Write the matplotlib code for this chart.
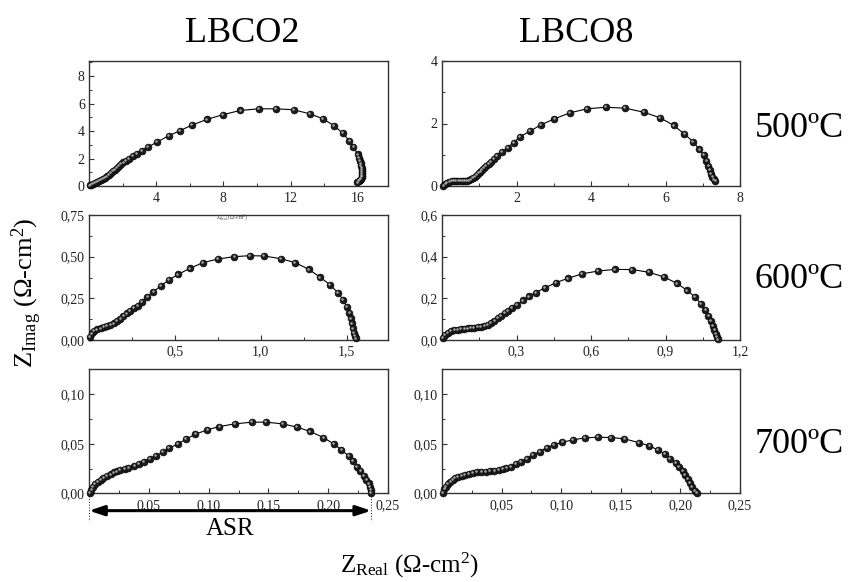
import matplotlib
matplotlib.use('Agg')
import matplotlib.pyplot as plt
from matplotlib.transforms import offset_copy
from matplotlib.ticker import FixedLocator, FixedFormatter, MultipleLocator

plt.rcParams['font.family'] = ['Liberation Serif', 'DejaVu Serif']
plt.rcParams['mathtext.fontset'] = 'custom'
plt.rcParams['mathtext.rm'] = 'Liberation Serif'
plt.rcParams['mathtext.it'] = 'Liberation Serif:italic'

# ---------------- data ----------------
materials = ['LBCO2', 'LBCO8']
temperatures = ['500ºC', '600ºC', '700ºC']

lbco2_500_x = [0.04, 0.12, 0.22, 0.33, 0.45, 0.57, 0.69, 0.81, 0.93, 1.05, 1.17, 1.29, 1.41, 1.53,
               1.65, 1.78, 1.91, 2.05, 2.2, 2.38, 2.6, 2.85, 3.15, 3.5, 4.05, 4.75, 5.4, 6.14, 7.03,
               7.96, 9.01, 10.1, 11.15, 12.18, 13.13, 13.92, 14.59, 15.1, 15.5, 15.74, 16.0, 16.08,
               16.13, 16.17, 16.2, 16.23, 16.25, 16.26, 16.27, 16.26, 16.24, 16.2, 16.14, 16.06, 15.98]
lbco2_500_y = [0.04, 0.1, 0.16, 0.22, 0.29, 0.36, 0.43, 0.51, 0.6, 0.7, 0.82, 0.94, 1.07, 1.2,
               1.33, 1.46, 1.59, 1.72, 1.85, 2.0, 2.17, 2.35, 2.57, 2.82, 3.2, 3.66, 4.02, 4.44, 4.85,
               5.19, 5.5, 5.62, 5.62, 5.55, 5.26, 4.9, 4.39, 3.85, 3.3, 2.84, 2.3, 2.05,
               1.85, 1.65, 1.47, 1.3, 1.15, 1.0, 0.87, 0.75, 0.64, 0.53, 0.43, 0.34, 0.26]

lbco8_500_x = [0.04, 0.09, 0.14, 0.2, 0.26, 0.32, 0.38, 0.44, 0.5, 0.56, 0.62, 0.68, 0.73, 0.78,
               0.83, 0.88, 0.93, 0.98, 1.03, 1.08, 1.13, 1.19, 1.25, 1.32, 1.39, 1.48, 1.61, 1.76,
               1.92, 2.1, 2.37, 2.66, 3.02, 3.43, 3.89, 4.4, 4.92, 5.42, 5.86, 6.22, 6.51, 6.74,
               6.91, 7.03, 7.1, 7.15, 7.19, 7.22, 7.26, 7.3, 7.34]
lbco8_500_y = [0.01, 0.07, 0.11, 0.14, 0.155, 0.16, 0.165, 0.165, 0.165, 0.165, 0.165, 0.17, 0.18,
               0.21, 0.25, 0.3, 0.35, 0.41, 0.46, 0.52, 0.57, 0.63, 0.7, 0.78, 0.86, 0.96, 1.08, 1.22,
               1.39, 1.58, 1.76, 1.96, 2.15, 2.34, 2.47, 2.52, 2.49, 2.36, 2.18, 1.94, 1.66, 1.42,
               1.17, 0.99, 0.81, 0.65, 0.51, 0.39, 0.29, 0.21, 0.16]

lbco2_600_x = [0.004, 0.015, 0.029, 0.048, 0.067, 0.087, 0.106, 0.125, 0.144, 0.163, 0.183, 0.2,
               0.221, 0.24, 0.26, 0.283, 0.308, 0.34, 0.375, 0.417, 0.465, 0.519, 0.587, 0.663, 0.75,
               0.846, 0.937, 1.019, 1.115, 1.2, 1.279, 1.346, 1.404, 1.448, 1.48, 1.5, 1.515, 1.523,
               1.531, 1.538, 1.544, 1.548, 1.554]
lbco2_600_y = [0.02, 0.04, 0.054, 0.064, 0.07, 0.078, 0.084, 0.092, 0.1, 0.114, 0.128, 0.144, 0.16,
               0.176, 0.192, 0.206, 0.228, 0.26, 0.29, 0.324, 0.36, 0.394, 0.43, 0.464, 0.486, 0.5,
               0.506, 0.504, 0.488, 0.464, 0.424, 0.376, 0.33, 0.284, 0.24, 0.2, 0.164, 0.13, 0.1,
               0.07, 0.044, 0.024, 0.01]

lbco8_600_x = [0.004, 0.013, 0.024, 0.036, 0.05, 0.063, 0.077, 0.09, 0.104, 0.117, 0.13, 0.144,
               0.157, 0.171, 0.184, 0.198, 0.211, 0.225, 0.238, 0.252, 0.265, 0.283, 0.303, 0.326,
               0.35, 0.377, 0.413, 0.458, 0.507, 0.565, 0.629, 0.696, 0.766, 0.834, 0.895, 0.946,
               0.987, 1.019, 1.043, 1.061, 1.073, 1.083, 1.091, 1.097, 1.102, 1.108, 1.11]
lbco8_600_y = [0.01, 0.024, 0.034, 0.042, 0.047, 0.05, 0.053, 0.055, 0.056, 0.058, 0.06, 0.061,
               0.064, 0.068, 0.074, 0.084, 0.093, 0.105, 0.116, 0.129, 0.141, 0.156, 0.17, 0.19,
               0.209, 0.228, 0.249, 0.275, 0.296, 0.318, 0.331, 0.339, 0.338, 0.325, 0.302, 0.272,
               0.238, 0.206, 0.174, 0.145, 0.117, 0.093, 0.069, 0.048, 0.029, 0.013, 0.003]

lbco2_700_x = [0.0006, 0.002, 0.003, 0.005, 0.0075, 0.0098, 0.012, 0.015, 0.018, 0.021, 0.023,
               0.026, 0.03, 0.033, 0.038, 0.042, 0.046, 0.051, 0.056, 0.062, 0.067, 0.074, 0.081,
               0.089, 0.099, 0.109, 0.122, 0.136, 0.148, 0.162, 0.174, 0.185, 0.196, 0.205, 0.211,
               0.217, 0.221, 0.224, 0.227, 0.23, 0.232, 0.234, 0.235, 0.236, 0.236]
lbco2_700_y = [0.0007, 0.0034, 0.0064, 0.0094, 0.0118, 0.0138, 0.0158, 0.0175, 0.019, 0.021, 0.022,
               0.0236, 0.025, 0.026, 0.028, 0.0296, 0.032, 0.0343, 0.038, 0.0414, 0.0455, 0.0495,
               0.0545, 0.0596, 0.064, 0.0673, 0.07, 0.0717, 0.0717, 0.07, 0.0667, 0.0623, 0.0562,
               0.0495, 0.0438, 0.0377, 0.0323, 0.027, 0.0222, 0.0175, 0.0135, 0.01, 0.0067, 0.0034,
               0.0007]

lbco8_700_x = [0.0006, 0.002, 0.0034, 0.005, 0.007, 0.009, 0.011, 0.0137, 0.0165, 0.0193, 0.0224,
               0.0257, 0.0294, 0.033, 0.0366, 0.04, 0.044, 0.0475, 0.051, 0.054, 0.058, 0.062, 0.066,
               0.071, 0.076, 0.082, 0.088, 0.094, 0.101, 0.11, 0.12, 0.131, 0.142, 0.153, 0.165,
               0.174, 0.181, 0.187, 0.191, 0.196, 0.199, 0.202, 0.204, 0.206, 0.208, 0.21, 0.212,
               0.214]
lbco8_700_y = [0.0007, 0.004, 0.0067, 0.0094, 0.0118, 0.0135, 0.0152, 0.0165, 0.0178, 0.0189,
               0.0199, 0.0205, 0.0212, 0.0215, 0.0219, 0.0222, 0.0226, 0.0232, 0.0242, 0.0253,
               0.027, 0.0293, 0.032, 0.035, 0.0384, 0.042, 0.046, 0.0488, 0.0515, 0.0539, 0.0559,
               0.0566, 0.0562, 0.0549, 0.0512, 0.0478, 0.0438, 0.0394, 0.035, 0.0303, 0.027,
               0.0226, 0.0185, 0.0141, 0.0101, 0.0061, 0.0027, 0.0]

asr_lbco2_700 = 0.236

# tick values / labels
x_ticks = [[4, 8, 12, 16], [2, 4, 6, 8],
           [0.5, 1.0, 1.5], [0.3, 0.6, 0.9, 1.2],
           [0.05, 0.10, 0.15, 0.20, 0.25], [0.05, 0.10, 0.15, 0.20, 0.25]]
x_labels = [['4', '8', '12', '16'], ['2', '4', '6', '8'],
            ['0,5', '1,0', '1,5'], ['0,3', '0,6', '0,9', '1,2'],
            ['0,05', '0,10', '0,15', '0,20', '0,25'], ['0,05', '0,10', '0,15', '0,20', '0,25']]
y_ticks = [[0, 2, 4, 6, 8], [0, 2, 4],
           [0, 0.25, 0.5, 0.75], [0, 0.2, 0.4, 0.6],
           [0, 0.05, 0.10], [0, 0.05, 0.10]]
y_labels = [['0', '2', '4', '6', '8'], ['0', '2', '4'],
            ['0,00', '0,25', '0,50', '0,75'], ['0,0', '0,2', '0,4', '0,6'],
            ['0,00', '0,05', '0,10'], ['0,00', '0,05', '0,10']]
x_minor = [2, 1, 0.25, 0.15, 0.025, 0.025]
y_minor = [1, 1, 0.125, 0.1, 0.025, 0.025]
x_lims = [(0, 17.8), (0, 8), (0, 1.74), (0, 1.2), (0, 0.25), (0, 0.25)]
y_lims = [(0, 9.1), (0, 4), (0, 0.75), (0, 0.6), (0, 0.125), (0, 0.125)]

series = [(lbco2_500_x, lbco2_500_y), (lbco8_500_x, lbco8_500_y),
          (lbco2_600_x, lbco2_600_y), (lbco8_600_x, lbco8_600_y),
          (lbco2_700_x, lbco2_700_y), (lbco8_700_x, lbco8_700_y)]

# ---------------- layout ----------------
W, H = 851, 582
fig = plt.figure(figsize=(W / 100, H / 100), dpi=100)

col_px = [(89, 388), (442, 740)]
row_px = [(61, 186), (215, 340), (369.3, 493.3)]

axes = []
for i, (xs, ys) in enumerate(series):
    r, c = divmod(i, 2)
    x0, x1 = col_px[c]
    t, b = row_px[r]
    ax = fig.add_axes([x0 / W, 1 - b / H, (x1 - x0) / W, (b - t) / H])
    axes.append(ax)
    ax.plot(xs, ys, '-', color='black', lw=0.8, zorder=2)
    ax.plot(xs, ys, 'o', ms=5.0, mfc='#1c1c1c', mec='black', mew=0.4, zorder=3, clip_on=False)
    hl = offset_copy(ax.transData, fig=fig, x=-0.6, y=0.6, units='points')
    ax.plot(xs, ys, 'o', ms=1.8, mfc='#a8a8a8', mew=0, transform=hl, zorder=4, clip_on=False)
    ax.set_xlim(*x_lims[i])
    ax.set_ylim(*y_lims[i])
    ax.xaxis.set_major_locator(FixedLocator(x_ticks[i]))
    ax.xaxis.set_major_formatter(FixedFormatter(x_labels[i]))
    ax.yaxis.set_major_locator(FixedLocator(y_ticks[i]))
    ax.yaxis.set_major_formatter(FixedFormatter(y_labels[i]))
    ax.xaxis.set_minor_locator(MultipleLocator(x_minor[i]))
    ax.yaxis.set_minor_locator(MultipleLocator(y_minor[i]))
    ax.tick_params(which='both', direction='in', top=False, right=False,
                   labelsize=10, color='#333333', labelcolor='#222222')
    ax.tick_params(which='major', length=3.5, width=0.8)
    ax.tick_params(which='minor', length=2, width=0.7)
    ax.tick_params(axis='x', pad=4)
    ax.tick_params(axis='y', pad=3)
    for s in ax.spines.values():
        s.set_color('#333333')
        s.set_linewidth(1.0)

# column titles
fig.text(242 / W, 1 - 42 / H, materials[0], fontsize=26, ha='center', va='baseline')
fig.text(576 / W, 1 - 42 / H, materials[1], fontsize=26, ha='center', va='baseline')

# row labels
for lab, base in zip(temperatures, [137, 288, 453]):
    fig.text(755 / W, 1 - base / H, lab, fontsize=26, ha='left', va='baseline')

# axis labels
fig.text(27 / W, 1 - 293 / H, r'Z$_{\mathrm{Imag}}$ (Ω-cm$^{2}$)', fontsize=19,
         rotation=90, ha='center', va='center')
fig.text(409 / W, 1 - 573 / H, r'Z$_{\mathrm{Real}}$ (Ω-cm$^{2}$)', fontsize=18,
         ha='center', va='baseline')

# tiny stray label inside the 600 ºC LBCO2 panel
fig.text(232 / W, 1 - 217 / H, r'Z$_{\mathrm{Real}}$ (Ω-cm$^{2}$)', fontsize=4,
         ha='center', va='center', color='#444444')

# ASR arrow on the 700 ºC LBCO2 panel
ax = axes[4]
tr = ax.get_xaxis_transform()
ax.annotate('', xy=(0, -0.14), xytext=(asr_lbco2_700, -0.14), xycoords=tr, textcoords=tr,
            arrowprops=dict(arrowstyle='<|-|>,head_length=0.9,head_width=0.3',
                            lw=2.2, color='black', shrinkA=0, shrinkB=0),
            annotation_clip=False)
for xv in (0, asr_lbco2_700):
    ax.plot([xv, xv], [0, -0.22], transform=tr, ls=(0, (1, 1.5)), lw=0.8,
            color='#333333', clip_on=False)
fig.text(230 / W, 1 - 535 / H, 'ASR', fontsize=18, ha='center', va='baseline')

fig.savefig('out.png', dpi=100)
